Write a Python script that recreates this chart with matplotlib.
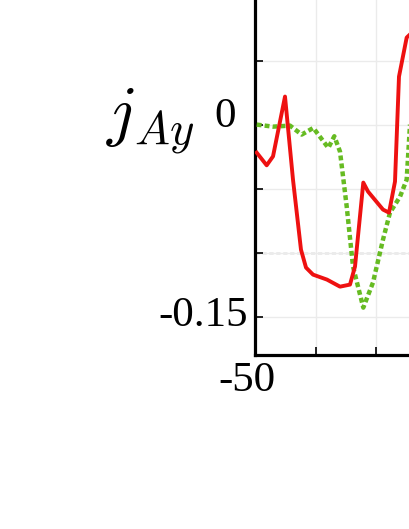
import matplotlib
matplotlib.use("Agg")
import matplotlib.pyplot as plt
import matplotlib.transforms as mtransforms

plt.rcParams['mathtext.fontset'] = 'cm'

# red curve (solid)
red_x = [-49.72, -48.07, -47.02, -45.04, -43.72, -42.40, -41.57, -40.41, -38.10,
         -35.95, -34.30, -33.47, -32.10, -31.32, -28.84, -27.85, -26.86, -26.20,
         -24.93, -24.05]
red_y = [-0.0219, -0.0318, -0.0248, 0.0219, -0.0430, -0.0977, -0.1117, -0.1172,
         -0.1211, -0.1266, -0.1250, -0.1109, -0.0453, -0.0523, -0.0664, -0.0688,
         -0.0445, 0.0375, 0.0680, 0.0719]

# green curve (dotted)
green_x = [-49.72, -47.02, -44.21, -42.28, -40.36, -37.88, -36.89, -35.95, -34.84,
           -33.80, -32.10, -30.50, -28.84, -27.69, -26.03, -24.93, -24.38]
green_y = [0.0, -0.0016, -0.0008, -0.0078, -0.0026, -0.0182, -0.0091, -0.0211,
           -0.0641, -0.1109, -0.1430, -0.1234, -0.0898, -0.0688, -0.0563, -0.0430,
           0.0]

y_ticks = [0.05, 0.0, -0.05, -0.10, -0.15]
y_labels = ['', '0', '', '', '-0.15']
x_ticks = [-50, -40, -30, -20, -10]
x_labels = ['-50', '', '', '', '']

fig = plt.figure(figsize=(4.09, 5.29), dpi=100)
ax = fig.add_axes([255 / 409, 174 / 529, 242 / 409, 358.4 / 529])

ax.plot(green_x, green_y, color='#66bb22', lw=3.2, ls=(0, (1.1, 0.7)), zorder=3)
ax.plot(red_x, red_y, color='#ee1111', lw=2.8, zorder=4)
ax.axhline(-0.10, color='#999999', lw=1.0, ls=(0, (3, 2)), zorder=1)

ax.set_xlim(-50, -10)
ax.set_ylim(-0.18, 0.10)
ax.set_yticks(y_ticks)
ax.set_yticklabels(y_labels)
ax.set_xticks(x_ticks)
ax.set_xticklabels(x_labels)
ax.grid(True, color='#ebebeb', lw=1.0, zorder=0)

for s in ax.spines.values():
    s.set_linewidth(2.3)
ax.tick_params(direction='in', length=6, width=1.2, labelsize=31, pad=5)
for lab in ax.get_yticklabels() + ax.get_xticklabels():
    lab.set_fontfamily('Liberation Serif')

dpi = fig.dpi
ylabs = ax.get_yticklabels()
ylabs[1].set_transform(ylabs[1].get_transform() +
                       mtransforms.ScaledTranslation(-12 / dpi, 12 / dpi, fig.dpi_scale_trans))
ylabs[4].set_transform(ylabs[4].get_transform() +
                       mtransforms.ScaledTranslation(0, 5 / dpi, fig.dpi_scale_trans))
xlabs = ax.get_xticklabels()
xlabs[0].set_transform(xlabs[0].get_transform() +
                       mtransforms.ScaledTranslation(-8 / dpi, 0, fig.dpi_scale_trans))

fig.text(106 / 409, 1 - 133 / 529, r'$j_{Ay}$', fontsize=48, ha='left', va='baseline')

fig.savefig('out.png', dpi=100)
